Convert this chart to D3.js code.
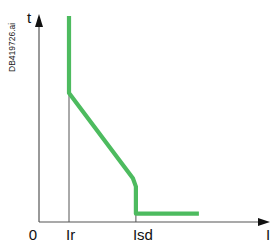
<!DOCTYPE html>
<html>
<head>
<meta charset="utf-8">
<script src="https://cdn.jsdelivr.net/npm/d3@7"></script>
<style>
  body { margin: 0; background: #fff; }
  text { font-family: "Liberation Sans", Arial, sans-serif; }
</style>
</head>
<body>
<svg id="chart" width="272" height="242"></svg>
<script>
// curve data (I in multiples of Ir, t in % of axis height)
const curveI = [1, 1, 3.13, 3.23, 3.23, 5.33];
const curveT = [99, 62, 21, 17, 4, 4];
// marker lines on the I axis
const markers = [{ label: "Ir", I: 1, t: 62 }, { label: "Isd", I: 3.23, t: 17 }];

const svg = d3.select("#chart");

const x = d3.scaleLinear().domain([0, 7.7]).range([39, 270]);
const y = d3.scaleLinear().domain([0, 100]).range([222, 14]);

// axes
svg.append("line")
  .attr("x1", x(0)).attr("y1", y(0)).attr("x2", x(7.45)).attr("y2", y(0))
  .attr("stroke", "#555").attr("stroke-width", 1.2);
svg.append("line")
  .attr("x1", x(0)).attr("y1", y(0)).attr("x2", x(0)).attr("y2", y(96))
  .attr("stroke", "#555").attr("stroke-width", 1.2);

// arrow heads
svg.append("path")
  .attr("d", `M${x(7.7)},${y(0)} L${x(7.7) - 12},${y(0) - 4} L${x(7.7) - 12},${y(0) + 4} Z`)
  .attr("fill", "#111");
svg.append("path")
  .attr("d", `M${x(0)},${y(100)} L${x(0) - 4},${y(100) + 13} L${x(0) + 4},${y(100) + 13} Z`)
  .attr("fill", "#111");

// marker lines
svg.selectAll(".marker")
  .data(markers)
  .enter()
  .append("line")
  .attr("class", "marker")
  .attr("x1", d => x(d.I)).attr("x2", d => x(d.I))
  .attr("y1", d => y(d.t)).attr("y2", y(0))
  .attr("stroke", "#555").attr("stroke-width", 1);

// green trip curve
const pts = curveI.map((v, i) => [v, curveT[i]]);
const line = d3.line().x(d => x(d[0])).y(d => y(d[1]));
svg.append("path")
  .datum(pts)
  .attr("d", line)
  .attr("fill", "none")
  .attr("stroke", "#4dbb5f")
  .attr("stroke-width", 4.2)
  .attr("stroke-linejoin", "round")
  .attr("stroke-linecap", "butt");

// labels
svg.append("text").attr("x", x(0) - 6).attr("y", 240)
  .attr("text-anchor", "middle").attr("font-size", 15).attr("fill", "#111").text("0");
svg.selectAll(".mlabel")
  .data(markers)
  .enter()
  .append("text")
  .attr("class", "mlabel")
  .attr("x", d => x(d.I) - 3)
  .attr("y", 240)
  .attr("font-size", 15)
  .attr("fill", "#111")
  .text(d => d.label);
svg.append("text").attr("x", 266).attr("y", 240)
  .attr("font-size", 15).attr("fill", "#111").text("I");
svg.append("text").attr("x", 27).attr("y", 23)
  .attr("font-size", 15).attr("fill", "#111").text("t");

// file reference
svg.append("text")
  .attr("transform", "translate(15,72) rotate(-90)")
  .attr("font-size", 8.5).attr("fill", "#222").text("DB419726.ai");
</script>
</body>
</html>
